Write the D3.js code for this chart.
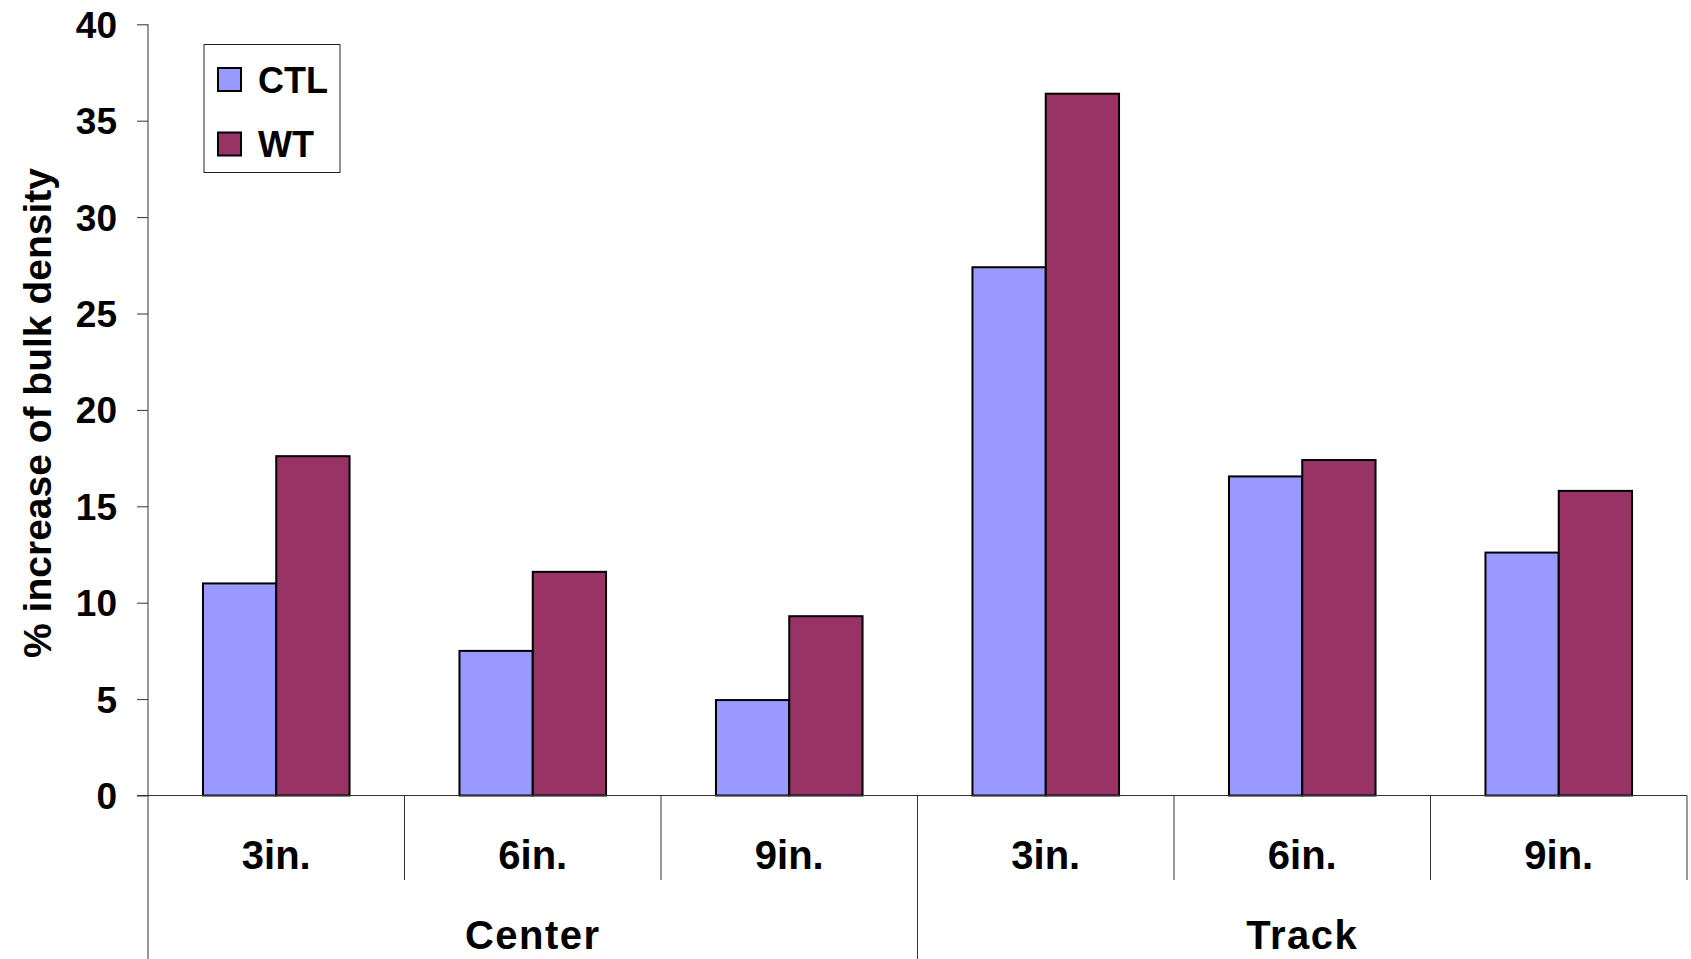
<!DOCTYPE html>
<html>
<head>
<meta charset="utf-8">
<script src="https://cdn.jsdelivr.net/npm/d3@7"></script>
<style>
  html, body { margin: 0; padding: 0; background: #fff; }
  svg { display: block; }
  text { font-family: "Liberation Sans", Arial, sans-serif; font-weight: bold; fill: #000; }
</style>
</head>
<body>
<svg id="chart" width="1691" height="959"></svg>
<script>
// Depth categories grouped by location
const depths = ["3in.", "6in.", "9in.", "3in.", "6in.", "9in."];
const locations = ["Center", "Track"];
const depthsPerLocation = 3;
const seriesNames = ["CTL", "WT"];
const ctlValues = [11.0, 7.5, 4.95, 27.4, 16.55, 12.6];
const wtValues = [17.6, 11.6, 9.3, 36.4, 17.4, 15.8];
const yTicks = [0, 5, 10, 15, 20, 25, 30, 35, 40];
const seriesColors = ["#9999FF", "#993366"];

const svg = d3.select("#chart");
const W = 1691, H = 959;
const plot = { left: 148, right: 1687, top: 24.3, bottom: 795.5 };

const x0 = d3.scaleBand()
  .domain(d3.range(depths.length))
  .range([plot.left, plot.right])
  .padding(0);

const groupWidth = x0.bandwidth() * 2 / 3.5;
const x1 = d3.scaleBand()
  .domain(seriesNames)
  .range([0, groupWidth])
  .padding(0);

const y = d3.scaleLinear().domain([0, 40]).range([plot.bottom, plot.top]);

const color = d3.scaleOrdinal().domain(seriesNames).range(seriesColors);

const rows = depths.map((d, i) => ({ i, depth: d, CTL: ctlValues[i], WT: wtValues[i] }));

// Y axis
const yAxis = d3.axisLeft(y).tickValues(yTicks).tickSize(11).tickPadding(20).tickFormat(d3.format("d"));
const gy = svg.append("g").attr("transform", `translate(${plot.left},0)`).call(yAxis);
gy.select(".domain").remove();
gy.selectAll(".tick line").attr("stroke", "#333").attr("stroke-width", 1);
gy.selectAll(".tick text").attr("font-size", 37).attr("dy", "0.35em")
  .style("font-family", '"Liberation Sans", Arial, sans-serif').style("font-weight", "bold");
svg.append("line")
  .attr("x1", plot.left).attr("x2", plot.left)
  .attr("y1", y(40)).attr("y2", H)
  .attr("stroke", "#333").attr("stroke-width", 1);

// Bars
const groups = svg.append("g").selectAll("g")
  .data(rows)
  .join("g")
  .attr("transform", d => `translate(${x0(d.i) + (x0.bandwidth() - groupWidth) / 2},0)`);

groups.selectAll("rect")
  .data(d => seriesNames.map(s => ({ s, v: d[s] })))
  .join("rect")
  .attr("x", d => x1(d.s))
  .attr("y", d => y(d.v))
  .attr("width", x1.bandwidth())
  .attr("height", d => y(0) - y(d.v))
  .attr("fill", d => color(d.s))
  .attr("stroke", "#000")
  .attr("stroke-width", 2);

// X axis baseline
svg.append("line")
  .attr("x1", plot.left - 11).attr("x2", plot.right)
  .attr("y1", y(0)).attr("y2", y(0))
  .attr("stroke", "#333").attr("stroke-width", 1);

// Category separators: short for depths, full for locations
const tickBottomShort = 880;
d3.range(1, depths.length + 1).forEach(k => {
  const xx = k < depths.length ? x0(k) : plot.right;
  const full = k % depthsPerLocation === 0 && k < depths.length;
  svg.append("line")
    .attr("x1", xx).attr("x2", xx)
    .attr("y1", y(0)).attr("y2", full ? H : tickBottomShort)
    .attr("stroke", "#333").attr("stroke-width", 1);
});

// Depth labels
svg.append("g").selectAll("text")
  .data(rows)
  .join("text")
  .attr("x", d => x0(d.i) + x0.bandwidth() / 2)
  .attr("y", 869)
  .attr("text-anchor", "middle")
  .attr("font-size", 40)
  .text(d => d.depth);

// Location labels
svg.append("g").selectAll("text")
  .data(locations)
  .join("text")
  .attr("x", (d, i) => {
    const a = x0(i * depthsPerLocation);
    const b = (i + 1) * depthsPerLocation < depths.length ? x0((i + 1) * depthsPerLocation) : plot.right;
    return (a + b) / 2;
  })
  .attr("y", 949)
  .attr("text-anchor", "middle")
  .attr("font-size", 40)
  .attr("letter-spacing", 1.5)
  .text(d => d);

// Y axis title
svg.append("text")
  .attr("transform", `translate(51,413) rotate(-90)`)
  .attr("text-anchor", "middle")
  .attr("font-size", 39)
  .text("% increase of bulk density");

// Legend
const legend = svg.append("g").attr("transform", "translate(204,44.5)");
legend.append("rect")
  .attr("width", 136).attr("height", 128)
  .attr("fill", "#fff").attr("stroke", "#222").attr("stroke-width", 1);
const items = legend.selectAll("g.item")
  .data(seriesNames)
  .join("g")
  .attr("class", "item")
  .attr("transform", (d, i) => `translate(14,${23.5 + i * 64.5})`);
items.append("rect")
  .attr("width", 23).attr("height", 23)
  .attr("fill", d => color(d))
  .attr("stroke", "#000").attr("stroke-width", 2);
items.append("text")
  .attr("x", 40).attr("y", 24.5)
  .attr("font-size", 36)
  .text(d => d);
</script>
</body>
</html>
